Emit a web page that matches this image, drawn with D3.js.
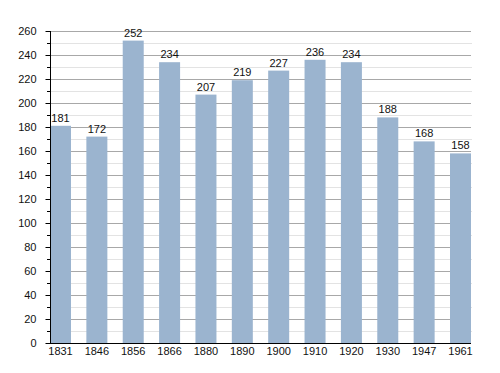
<!DOCTYPE html>
<html>
<head>
<meta charset="utf-8">
<script src="https://cdn.jsdelivr.net/npm/d3@7"></script>
<style>
  body { margin: 0; background: #fff; }
  text { font-family: "Liberation Sans", Arial, sans-serif; font-size: 11px; fill: #111; }
</style>
</head>
<body>
<svg id="vis" width="500" height="373"></svg>
<script>
var years = ["1831","1846","1856","1866","1880","1890","1900","1910","1920","1930","1947","1961"];
var population = [181, 172, 252, 234, 207, 219, 227, 236, 234, 188, 168, 158];
var majorTicks = [0,20,40,60,80,100,120,140,160,180,200,220,240,260];
var minorTicks = [10,30,50,70,90,110,130,150,170,190,210,230,250];

var svg = d3.select("#vis");

var plotLeft = 50, plotRight = 471, plotTop = 31, plotBottom = 343;

var x = d3.scaleBand()
    .domain(years)
    .range([plotLeft, plotRight])
    .paddingInner(0.4225)
    .paddingOuter(0);

var y = d3.scaleLinear()
    .domain([0, 260])
    .range([plotBottom, plotTop]);

// minor grid
svg.append("g").selectAll("line")
    .data(minorTicks)
    .enter().append("line")
    .attr("x1", plotLeft).attr("x2", plotRight + 1)
    .attr("y1", function(d) {return Math.round(y(d)) + 0.5;})
    .attr("y2", function(d) {return Math.round(y(d)) + 0.5;})
    .attr("stroke", "#e3e3e3");

// major grid
svg.append("g").selectAll("line")
    .data(majorTicks.slice(1))
    .enter().append("line")
    .attr("x1", plotLeft).attr("x2", plotRight)
    .attr("y1", function(d) {return Math.round(y(d)) + 0.5;})
    .attr("y2", function(d) {return Math.round(y(d)) + 0.5;})
    .attr("stroke", "#a8a8a8");

// bars
svg.append("g").selectAll("rect")
    .data(population)
    .enter().append("rect")
    .attr("x", function(d, i) {return x(years[i]);})
    .attr("y", function(d) {return y(d);})
    .attr("width", x.bandwidth())
    .attr("height", function(d) {return plotBottom - y(d);})
    .attr("fill", "#9bb4cf");

// value labels
svg.append("g").selectAll("text")
    .data(population)
    .enter().append("text")
    .text(function(d) {return d;})
    .attr("x", function(d, i) {return x(years[i]) + x.bandwidth() / 2;})
    .attr("y", function(d) {return y(d) - 4;})
    .attr("text-anchor", "middle");

// y axis
var yAxis = svg.append("g")
    .attr("transform", "translate(" + (plotLeft + 0.5) + ",0)")
    .call(d3.axisLeft(y).tickValues(majorTicks).tickSize(5).tickPadding(9));
yAxis.select(".domain").attr("stroke", "#000").attr("d", "M0," + plotTop + "V" + plotBottom);
yAxis.selectAll("text").style("font-size", "11px").attr("fill", "#111");

svg.append("g").selectAll("line")
    .data(minorTicks)
    .enter().append("line")
    .attr("x1", plotLeft - 3).attr("x2", plotLeft)
    .attr("y1", function(d) {return Math.round(y(d)) + 0.5;})
    .attr("y2", function(d) {return Math.round(y(d)) + 0.5;})
    .attr("stroke", "#000");

// x axis
var xAxis = svg.append("g")
    .attr("transform", "translate(0," + (plotBottom + 0.5) + ")")
    .call(d3.axisBottom(x).tickSize(0).tickPadding(4));
xAxis.select(".domain").attr("stroke", "#000").attr("d", "M" + plotLeft + ",0H" + plotRight);
xAxis.selectAll("text").style("font-size", "11px").attr("fill", "#111");
</script>
</body>
</html>
